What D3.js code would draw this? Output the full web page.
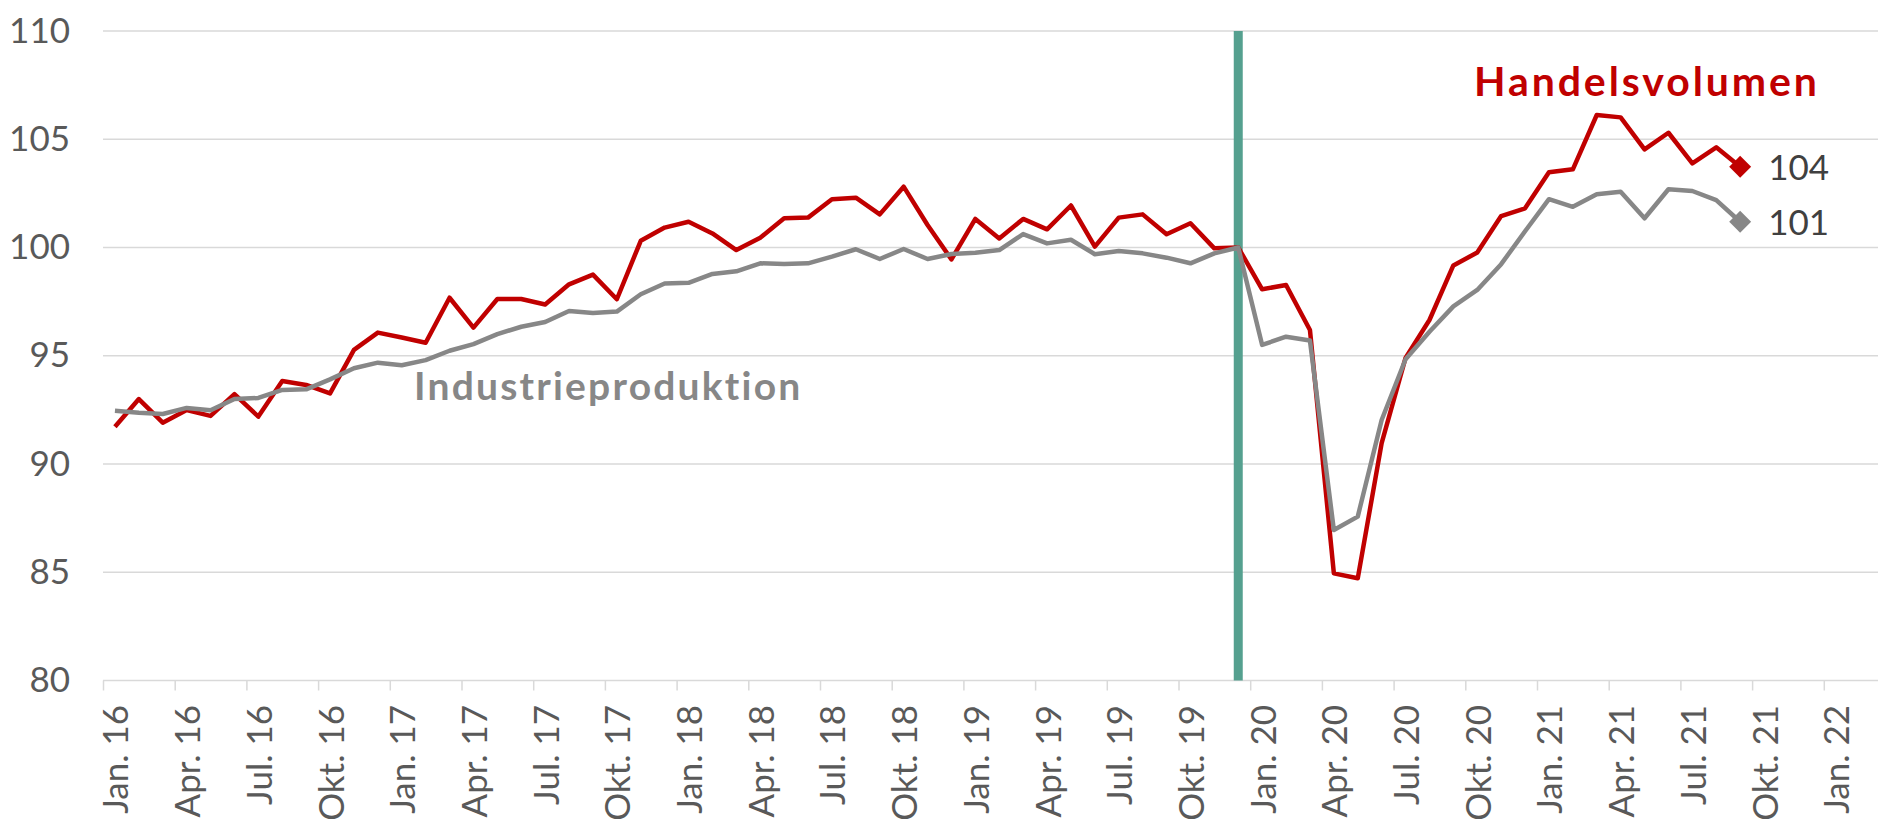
<!DOCTYPE html>
<html>
<head>
<meta charset="utf-8">
<script src="https://cdn.jsdelivr.net/npm/d3@7"></script>
<style>
  html, body { margin: 0; padding: 0; background: #fff; }
  svg { display: block; font-family: Lato, "Open Sans", sans-serif; }
</style>
</head>
<body>
<svg id="chart" width="1878" height="822"></svg>
<script>
// ========================================
// DATA (monthly index, Dez. 2019 = 100, from Jan. 2016)
// ========================================
const tickLabels = [
    'Jan. 16', 'Apr. 16', 'Jul. 16', 'Okt. 16',
    'Jan. 17', 'Apr. 17', 'Jul. 17', 'Okt. 17',
    'Jan. 18', 'Apr. 18', 'Jul. 18', 'Okt. 18',
    'Jan. 19', 'Apr. 19', 'Jul. 19', 'Okt. 19',
    'Jan. 20', 'Apr. 20', 'Jul. 20', 'Okt. 20',
    'Jan. 21', 'Apr. 21', 'Jul. 21', 'Okt. 21',
    'Jan. 22'
];
const yTicks = [80, 85, 90, 95, 100, 105, 110];

const handelsvolumen = [
    91.72, 93.00, 91.91, 92.49, 92.22, 93.23, 92.19, 93.83, 93.65, 93.26, 95.27, 96.07,
    95.84, 95.60, 97.68, 96.30, 97.62, 97.62, 97.37, 98.30, 98.75, 97.61, 100.31, 100.92,
    101.19, 100.65, 99.88, 100.45, 101.35, 101.38, 102.23, 102.30, 101.53, 102.81, 101.04, 99.45,
    101.32, 100.42, 101.32, 100.84, 101.94, 100.04, 101.38, 101.53, 100.61, 101.12, 99.96, 100.00,
    98.07, 98.27, 96.19, 84.95, 84.72, 90.96, 94.90, 96.65, 99.17, 99.77, 101.45, 101.81,
    103.48, 103.61, 106.12, 106.01, 104.53, 105.30, 103.89, 104.63, 103.73
];
const industrieproduktion = [
    92.46, 92.37, 92.31, 92.59, 92.48, 93.00, 93.05, 93.42, 93.45, 93.91, 94.42, 94.68,
    94.56, 94.80, 95.23, 95.54, 96.00, 96.34, 96.56, 97.07, 96.98, 97.04, 97.84, 98.34,
    98.37, 98.78, 98.90, 99.27, 99.24, 99.27, 99.58, 99.92, 99.47, 99.93, 99.47, 99.70,
    99.76, 99.88, 100.62, 100.19, 100.36, 99.69, 99.84, 99.73, 99.53, 99.27, 99.73, 100.00,
    95.50, 95.88, 95.70, 86.95, 87.57, 92.03, 94.84, 96.11, 97.28, 98.04, 99.23, 100.75,
    102.23, 101.88, 102.46, 102.58, 101.35, 102.69, 102.61, 102.19, 101.19
];
const baseMonth = 47; // Dez. 19

// ========================================
// LAYOUT
// ========================================
const W = 1878, H = 822;
const plotLeft = 103, plotTop = 31, plotBottom = 680.5;
const monthW = 23.9;

const svg = d3.select('#chart');

const x = d3.scaleLinear().domain([0, (W - plotLeft) / monthW]).range([plotLeft, W]);
const y = d3.scaleLinear().domain([80, 110]).range([plotBottom, plotTop]);

const RED = '#c00000';
const GREY = '#878787';
const GRID = '#d9d9d9';
const TEXT = '#595959';

// Gridlines
svg.append('g')
    .selectAll('line')
    .data(yTicks).enter()
    .append('line')
    .attr('x1', plotLeft).attr('x2', W)
    .attr('y1', d => y(d)).attr('y2', d => y(d))
    .attr('stroke', GRID).attr('stroke-width', 1.5);

// Y axis labels
const yAxis = svg.append('g')
    .attr('transform', `translate(${plotLeft},0)`)
    .call(d3.axisLeft(y).tickValues(yTicks).tickSize(0).tickPadding(33));
yAxis.select('.domain').remove();
yAxis.selectAll('text')
    .attr('font-size', 35).attr('fill', TEXT)
    .attr('font-family', 'Lato, sans-serif');

// X axis: quarterly ticks, rotated labels centred on the month
const xAxis = svg.append('g')
    .attr('transform', `translate(0,${plotBottom})`)
    .call(d3.axisBottom(x)
        .tickValues(d3.range(0, 73, 3))
        .tickFormat((d, i) => tickLabels[i])
        .tickSize(10));
xAxis.select('.domain').remove();
xAxis.selectAll('line').attr('stroke', GRID).attr('stroke-width', 1.5);
xAxis.selectAll('text')
    .attr('x', 0).attr('y', 13).attr('dy', null)
    .attr('text-anchor', 'end')
    .attr('transform', `translate(${monthW / 2},24.5) rotate(-90)`)
    .attr('font-size', 35).attr('fill', TEXT)
    .attr('font-family', 'Lato, sans-serif');

// Reference line at the base month
svg.append('line')
    .attr('x1', x(baseMonth + 0.5)).attr('x2', x(baseMonth + 0.5))
    .attr('y1', y(110)).attr('y2', y(80))
    .attr('stroke', '#55a08f').attr('stroke-width', 9);

// Series
const line = d3.line()
    .x((d, i) => x(i + 0.5))
    .y(d => y(d));

svg.append('path')
    .datum(handelsvolumen)
    .attr('fill', 'none').attr('stroke', RED)
    .attr('stroke-width', 4.5).attr('stroke-linejoin', 'round')
    .attr('d', line);

svg.append('path')
    .datum(industrieproduktion)
    .attr('fill', 'none').attr('stroke', GREY)
    .attr('stroke-width', 4.5).attr('stroke-linejoin', 'round')
    .attr('d', line);

// End markers + values
const last = handelsvolumen.length - 1;
[[handelsvolumen, RED], [industrieproduktion, GREY]].forEach(([series, color]) => {
    const cx = x(last + 0.5), cy = y(series[last]);
    svg.append('path')
        .attr('d', d3.symbol().type(d3.symbolSquare).size(240)())
        .attr('transform', `translate(${cx},${cy}) rotate(45)`)
        .attr('fill', color);
    svg.append('text')
        .attr('x', cx + 28).attr('y', cy + 13)
        .attr('font-size', 35).attr('fill', '#404040')
        .text(Math.round(series[last]));
});

// Series labels
svg.append('text')
    .attr('x', 1474).attr('y', 96)
    .attr('font-size', 41).attr('font-weight', 700).attr('fill', RED)
    .attr('letter-spacing', 2.9)
    .text('Handelsvolumen');

svg.append('text')
    .attr('x', 414).attr('y', 400)
    .attr('font-size', 39).attr('font-weight', 700).attr('fill', GREY)
    .attr('letter-spacing', 2.2)
    .text('Industrieproduktion');
</script>
</body>
</html>
